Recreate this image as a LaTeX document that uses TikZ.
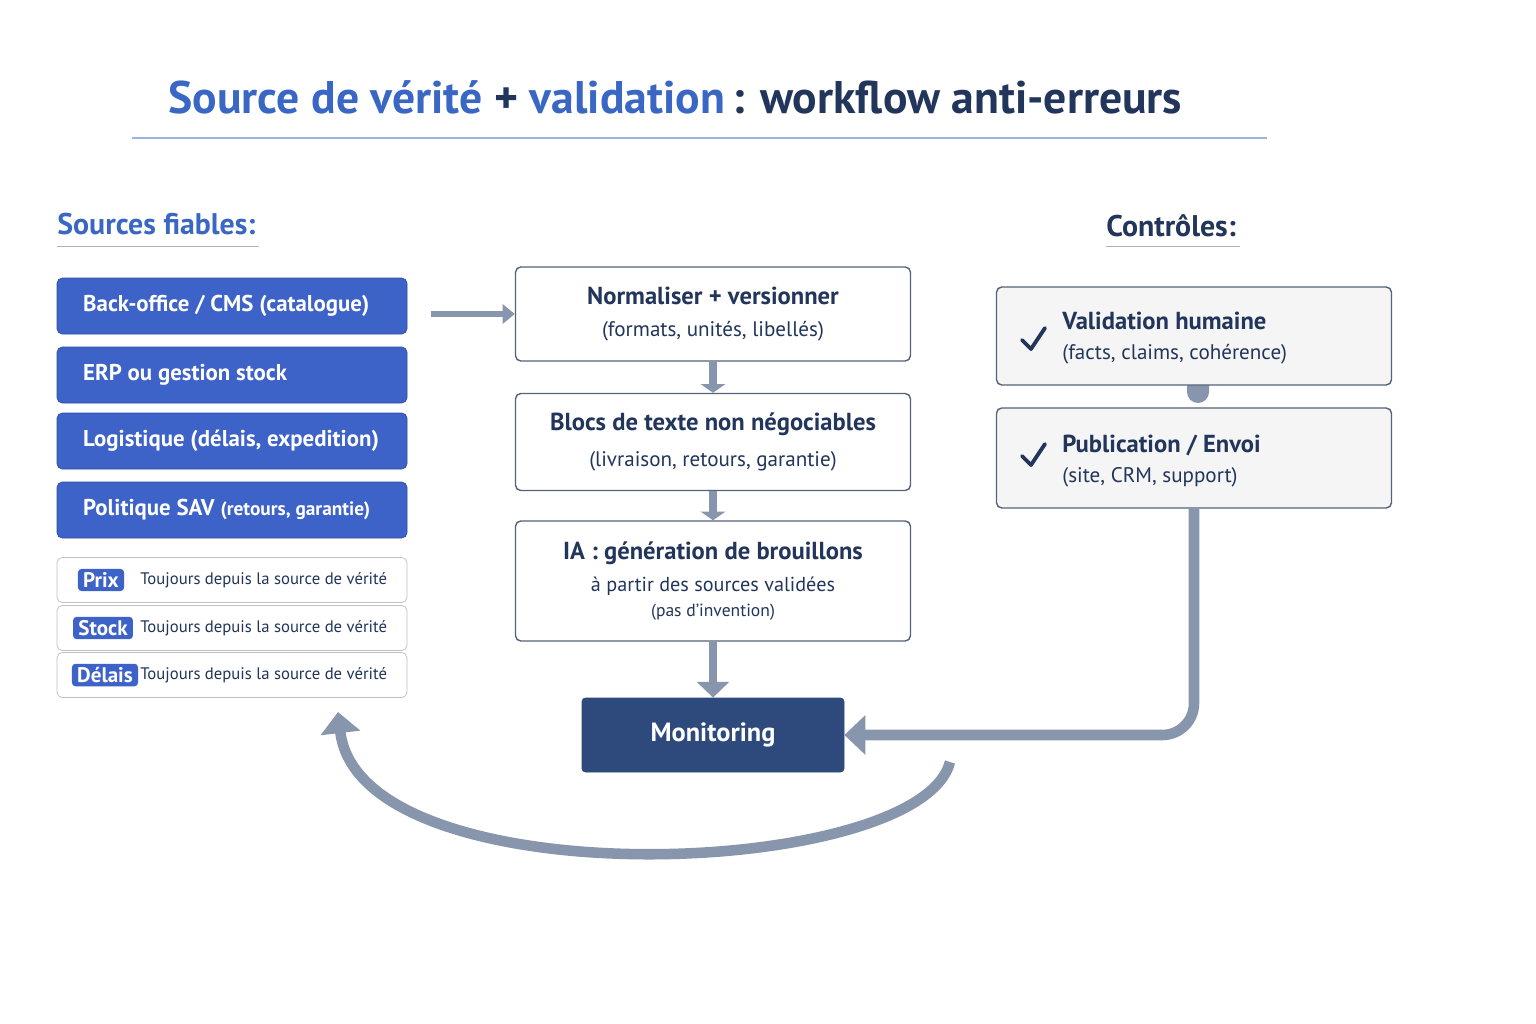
\documentclass[tikz,border=0pt]{standalone}
\usepackage{fontspec}
\setmainfont{PT Sans}
\usetikzlibrary{arrows.meta}
\definecolor{tblue}{HTML}{3A67C4}
\definecolor{navy}{HTML}{22355A}
\definecolor{bfill}{HTML}{3D62C8}
\definecolor{mon}{HTML}{2E4A7D}
\definecolor{arr}{HTML}{8796AD}
\definecolor{bord}{HTML}{56617A}
\begin{document}
\begin{tikzpicture}[x=0.02cm,y=-0.02cm,
 src/.style={draw=bfill!80!black,fill=bfill,rounded corners=3pt,minimum width=350*0.02cm,minimum height=56*0.02cm,text=white,inner sep=0},
 srct/.style={anchor=west,text=white,font=\fontsize{13}{15}\selectfont\bfseries},
 fact/.style={draw=black!25,fill=white,rounded corners=3pt,minimum width=350*0.02cm,minimum height=45*0.02cm,inner sep=0},
 badge/.style={fill=bfill,rounded corners=2pt,text=white,font=\fontsize{12}{14}\selectfont\bfseries,inner xsep=3pt,inner ysep=2pt},
 cbox/.style={draw=bord,fill=white,rounded corners=3pt,line width=0.8pt,minimum width=395*0.02cm,align=center,text=navy},
 rbox/.style={draw=bord,fill=black!4,rounded corners=3pt,line width=0.8pt,minimum width=395*0.02cm,text=navy},
 garr/.style={draw=arr,line width=4pt,-{Triangle[length=9pt,width=15pt]}}]
\useasboundingbox (0,0) rectangle (1536,1024);
\fill[white] (0,0) rectangle (1536,1024);
\node[anchor=west,font=\fontsize{26}{30}\selectfont\bfseries,inner sep=0] (title) at (168,97) {\textcolor{tblue}{Source de vérité} \textcolor{navy}{+} \textcolor{tblue}{validation}\,\textcolor{navy}{: workflow anti-erreurs}};
\draw[tblue!50,line width=0.8pt] (132,138) -- (1267,138);
\node[anchor=west,inner sep=0,text=tblue,font=\fontsize{17}{20}\selectfont\bfseries] (sf) at (57,224) {Sources fiables:};
\draw[black!30] (57,246) -- (259,246);
\node[anchor=west,inner sep=0,text=navy,font=\fontsize{17}{20}\selectfont\bfseries] (ct) at (1106,226) {Contrôles:};
\draw[black!30] (1106,246) -- (1240,246);
% sources
\node[src] (s1) at (232,306) {};
\node[srct] at (77,306) {Back-office / CMS (catalogue)};
\node[src] (s2) at (232,375) {};
\node[srct] at (77,375) {ERP ou gestion stock};
\node[src] (s3) at (232,441) {};
\node[srct] at (77,441) {Logistique (délais, expedition)};
\node[src] (s4) at (232,510) {};
\node[srct] at (77,510) {Politique SAV {\fontsize{11}{13}\selectfont(retours, garantie)}};
\foreach \n/\y/\bx in {Prix/580/101,Stock/628/103,Délais/675/105}{
 \node[fact] (f\n) at (232,\y) {};
 \node[badge] (b\n) at (\bx,\y) {\n};
 \node[anchor=west,inner sep=0,text=navy,font=\fontsize{9.5}{11}\selectfont] at (140,\y) {Toujours depuis la source de vérité};
}
% center
\node[cbox,minimum height=94*0.02cm] (c1) at (713,314) {{\fontsize{14}{16}\selectfont\bfseries Normaliser + versionner}\\[6pt]{\fontsize{12}{14}\selectfont (formats, unités, libellés)}};
\node[cbox,minimum height=97*0.02cm] (c2) at (713,442) {{\fontsize{14}{16}\selectfont\bfseries Blocs de texte non négociables}\\[8pt]{\fontsize{12}{14}\selectfont (livraison, retours, garantie)}};
\node[cbox,minimum height=120*0.02cm] (c3) at (713,581) {{\fontsize{14}{16}\selectfont\bfseries IA : génération de brouillons}\\[6pt]{\fontsize{11.5}{13}\selectfont à partir des sources validées}\\[2pt]{\fontsize{10}{12}\selectfont (pas d'invention)}};
\node[fill=mon,draw=mon,rounded corners=2pt,minimum width=262*0.02cm,minimum height=74*0.02cm,text=white,font=\fontsize{15}{18}\selectfont\bfseries] (mo) at (713,735) {Monitoring};
% right
\fill[arr] (1187,384) -- (1209,384) -- (1209,392) arc[start angle=0,end angle=180,radius=11] -- cycle;
\node[rbox,minimum height=98*0.02cm] (r1) at (1194,336) {};
\node[anchor=west,align=left,text=navy,inner sep=0] at (1062,338) {{\fontsize{14}{16}\selectfont\bfseries Validation humaine}\\[5pt]{\fontsize{12}{14}\selectfont (facts, claims, cohérence)}};
\node[rbox,minimum height=100*0.02cm] (r2) at (1194,458) {};
\node[anchor=west,align=left,text=navy,inner sep=0] at (1062,461) {{\fontsize{14}{16}\selectfont\bfseries Publication / Envoi}\\[5pt]{\fontsize{12}{14}\selectfont (site, CRM, support)}};
\foreach \y in {340,456}{\draw[navy,line width=2.2pt,line cap=round,line join=round] (1022,\y) -- (1031,\y+9) -- (1045,\y-12);}
% connectors
\coordinate (a0) at (431,314);
\draw[garr,line width=3pt,-{Triangle[length=7pt,width=11pt]}] (a0) -- (c1.west);
\draw[garr,-{Triangle[length=5pt,width=14pt]}] (c1.south) -- (c2.north);
\draw[garr,-{Triangle[length=5pt,width=14pt]}] (c2.south) -- (c3.north);
\draw[garr,-{Triangle[length=9pt,width=18pt]}] (c3.south) -- (mo.north);
\draw[garr,line width=6pt,-{Triangle[length=12pt,width=22pt]},rounded corners=18pt] (r2.south) |- (mo.east);
\coordinate (lp) at (950,762);
\coordinate (le) at (338,712);
\draw[garr,line width=6pt,-{Triangle[length=12pt,width=22pt]}] (lp) .. controls (920,880) and (360,900) .. (le);
\end{tikzpicture}
\end{document}
